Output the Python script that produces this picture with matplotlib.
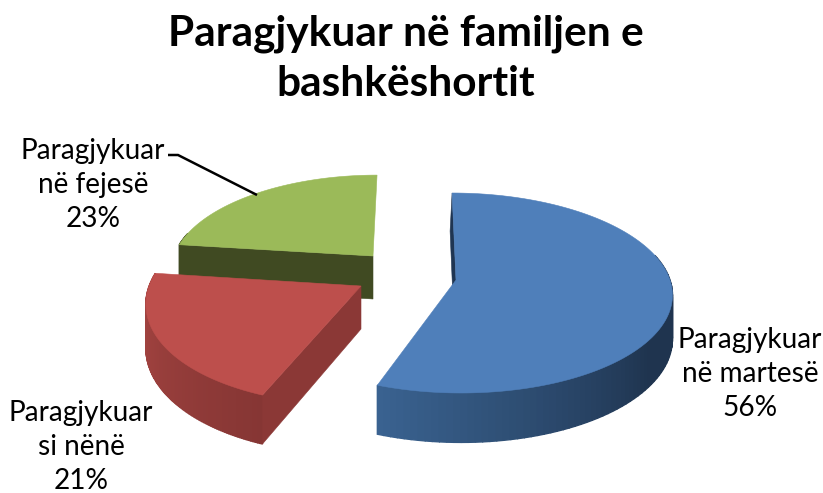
import numpy as np
import matplotlib
matplotlib.use("Agg")
import matplotlib.pyplot as plt
from matplotlib.patches import Polygon

title = "Paragjykuar në familjen e\nbashkëshortit"
categories = ["Paragjykuar\nnë martesë", "Paragjykuar\nsi nënë", "Paragjykuar\nnë fejesë"]
values = [56, 21, 23]

plt.rcParams['font.family'] = ['Lato', 'DejaVu Sans']
W, H = 823, 493
fig = plt.figure(figsize=(W / 100, H / 100), dpi=100)
ax = fig.add_axes([0, 0, 1, 1])
ax.set_xlim(0, W)
ax.set_ylim(H, 0)
ax.axis("off")

# layout of each slice: apex, scale, shear
K = 0.13
CX, CY, DEPTH = 214.0, 98.3, 43.0
START = 90.0
style = {
    0: dict(apex=(456, 280), scale=1.0, yscale=1.0, shear=-0.045, trim=1.6, cut_dx=-2.0, top="#4F7FBA",
            cut="#1F3552", wall0="#3A6391", wall1="#1F344F"),
    1: dict(apex=(361, 286), scale=0.99, yscale=1.06, shear=0.09, trim=0, cut_dx=0, top="#BD4F4C",
            cut="#8B3836", wall0="#AB4744", wall1="#863634"),
    2: dict(apex=(373, 256), scale=0.93, yscale=1.0, shear=0.05, trim=0, cut_dx=0, top="#9BBA59",
            cut="#404A22", wall0="#404A22", wall1="#404A22"),
}

def project(th, st, r=1.0, drop=0.0):
    s, c = np.sin(th), np.cos(th)
    d = 1 + K * s * r
    X = st["scale"] * CX * r * c / d
    Y = st["yscale"] * st["scale"] * CY * r * s / d
    ax0, ay0 = st["apex"]
    return ax0 + X + st["shear"] * Y, ay0 - Y + drop / d

def lerp(c0, c1, t):
    a, b = np.array(matplotlib.colors.to_rgb(c0)), np.array(matplotlib.colors.to_rgb(c1))
    return tuple(a + (b - a) * np.clip(t, 0, 1))

# angular ranges, clockwise from the top
edges = START - np.cumsum([0] + values) * 3.6
ranges = [(edges[i + 1], edges[i]) for i in range(len(values))]

def draw_slice(i):
    st = style[i]
    lo, hi = np.radians(ranges[i][0] + st["trim"]), np.radians(ranges[i][1])
    ths = np.linspace(lo, hi, 121)
    # outer wall, shaded strip by strip
    for a, b in zip(ths[:-1], ths[1:]):
        if np.sin(0.5 * (a + b)) > 0.25:
            continue
        if i == 1:
            t = (0.5 * (a + b) - lo) / (hi - lo)
        else:
            t = (0.5 * (a + b) - lo) / (np.radians(-35) - lo)
        col = lerp(st["wall0"], st["wall1"], t)
        pts = [project(a, st), project(b, st), project(b, st, drop=DEPTH), project(a, st, drop=DEPTH)]
        ax.add_patch(Polygon(pts, closed=True, fc=col, ec=col, lw=1.0, zorder=2))
    # the cut face turned towards the viewer
    low_a, low_b = project(hi, st, r=0, drop=DEPTH), project(hi, st, drop=DEPTH)
    pts = [project(hi, st), project(hi, st, r=0),
           (low_a[0] + st["cut_dx"], low_a[1]), (low_b[0] + st["cut_dx"], low_b[1])]
    ax.add_patch(Polygon(pts, closed=True, fc=st["cut"], ec=st["cut"], lw=0.4, zorder=2))
    # top surface
    arc = [project(t, st) for t in ths]
    ax.add_patch(Polygon(arc + [project(0, st, r=0)], closed=True, fc=st["top"], ec=st["top"],
                         lw=0.4, zorder=2))

for i in (2, 1, 0):
    draw_slice(i)

ax.text(406, 59, title, ha="center", va="center", fontsize=30.5, fontweight="bold",
        color="black", linespacing=1.4)

label_pos = [(750, 374), (81, 447), (93, 185)]
for cat, v, (x, y) in zip(categories, values, label_pos):
    ax.text(x, y, f"{cat}\n{v}%", ha="center", va="center", fontsize=20.2, color="black",
            linespacing=1.4)

# leader from the green slice to its label
ax.plot([168, 178, 257], [155, 155, 195], color="black", lw=1.8, zorder=3,
        solid_capstyle="butt", solid_joinstyle="miter")

fig.savefig("out.png", dpi=100, facecolor="white")
